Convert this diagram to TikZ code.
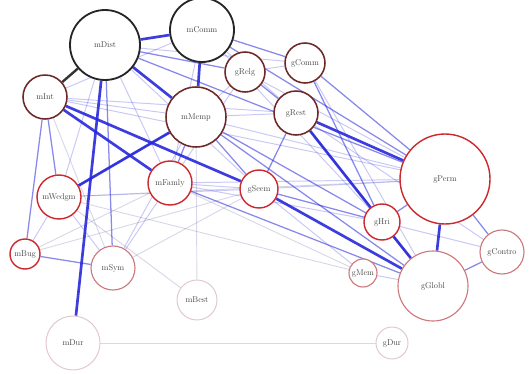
\documentclass[tikz,border=0pt]{standalone}
\usetikzlibrary{backgrounds}
\usetikzlibrary{calc}

\definecolor{edgeblue}{RGB}{40,40,220}
\definecolor{ringdark}{RGB}{110,40,40}
\definecolor{ringred}{RGB}{205,40,45}
\definecolor{ringpink}{RGB}{205,120,125}
\definecolor{ringpale}{RGB}{225,200,205}

\tikzset{
  nd/.style={circle, draw, fill=white, inner sep=0pt, font=\large, text=black!75},
  ndblack/.style={nd, draw=black!85, line width=2.6pt},
  nddark/.style={nd, draw=ringdark, line width=2.2pt},
  ndred/.style={nd, draw=ringred, line width=2pt},
  ndpink/.style={nd, draw=ringpink, line width=1.6pt},
  ndpale/.style={nd, draw=ringpale, line width=1.4pt},
  e1/.style={draw=edgeblue!35!gray, opacity=0.25, line width=1.3pt},
  e2/.style={draw=edgeblue, opacity=0.25, line width=1.4pt},
  e3/.style={draw=edgeblue, opacity=0.55, line width=1.8pt},
  e4/.style={draw=edgeblue, opacity=0.9, line width=3.8pt}
}

\begin{document}
\begin{tikzpicture}[x=0.05cm,y=-0.05cm]
\useasboundingbox (0,0) rectangle (529,373);

% nodes
\node[ndblack, minimum size=3.5cm] (mDist) at (105,45) {mDist};
\node[ndblack, minimum size=3.2cm] (mComm) at (202,30) {mComm};
\node[nddark, minimum size=2.0cm] (gRelg) at (245,72) {gRelg};
\node[nddark, minimum size=2.0cm] (gComm) at (305,63) {gComm};
\node[nddark, minimum size=2.2cm] (mInt) at (45,97) {mInt};
\node[nddark, minimum size=3.0cm] (mMemp) at (196,117) {mMemp};
\node[nddark, minimum size=2.2cm] (gRest) at (296,113) {gRest};
\node[ndred, minimum size=4.5cm] (gPerm) at (445,179) {gPerm};
\node[ndred, minimum size=2.2cm] (mWedgm) at (59,197) {mWedgm};
\node[ndred, minimum size=2.2cm] (mFamly) at (170,183) {mFamly};
\node[ndred, minimum size=1.9cm] (gSeem) at (259,189) {gSeem};
\node[ndred, minimum size=1.8cm] (gHri) at (382,222) {gHri};
\node[ndred, minimum size=1.5cm] (mBug) at (25,254) {mBug};
\node[ndpink, minimum size=2.2cm] (mSym) at (113,268) {mSym};
\node[ndpink, minimum size=2.2cm] (gContro) at (502,252) {gContro};
\node[ndpink, minimum size=1.4cm] (gMem) at (363,273) {gMem};
\node[ndpink, minimum size=3.5cm] (gGlobl) at (433,286) {gGlobl};
\node[ndpale, minimum size=2.0cm] (mBest) at (197,300) {mBest};
\node[ndpale, minimum size=2.7cm] (mDur) at (73,343) {mDur};
\node[ndpale, minimum size=1.6cm] (gDur) at (392,343) {gDur};

\begin{scope}[on background layer]
% faint links
\draw[e1] (mDur) -- (gDur);
\draw[e1] (mMemp) -- (mBest);
\draw[e1] (mWedgm) -- (mBest);
\draw[e1] (mWedgm) -- (gMem);
\draw[e1] (mBug) -- (gSeem);
\draw[e1] (mBug) -- (mFamly);
\draw[e1] (mFamly) -- (gMem);
\draw[e1] (mSym) -- (gSeem);
\draw[e1] (mInt) -- (mSym);
\draw[e1] (mWedgm) -- (gPerm);

% light links
\draw[e2] (mInt) -- (mMemp);
\draw[e2] (mInt) -- (gRest);
\draw[e2] (mInt) -- (mComm);
\draw[e2] (mInt) -- (gPerm);
\draw[e2] (mDist) -- (mFamly);
\draw[e2] (mDist) -- (gSeem);
\draw[e2] (mDist) -- (gComm);
\draw[e2] (mDist) -- (mWedgm);
\draw[e2] (mComm) -- (gRest);
\draw[e2] (mComm) -- (mFamly);
\draw[e2] (mComm) -- (gHri);
\draw[e2] (gRelg) -- (gComm);
\draw[e2] (gRelg) -- (mMemp);
\draw[e2] (gRelg) -- (gPerm);
\draw[e2] (gRelg) -- (mFamly);
\draw[e2] (mWedgm) -- (mBug);
\draw[e2] (mWedgm) -- (mSym);
\draw[e2] (mWedgm) -- (gSeem);
\draw[e2] (mFamly) -- (mSym);
\draw[e2] (mFamly) -- (gSeem);
\draw[e2] (mFamly) -- (gPerm);
\draw[e2] (mFamly) -- (gHri);
\draw[e2] (gSeem) -- (gPerm);
\draw[e2] (gSeem) -- (gMem);
\draw[e2] (mMemp) -- (gPerm);
\draw[e2] (mMemp) -- (gRest);
\draw[e2] (gHri) -- (gContro);
\draw[e2] (gMem) -- (gGlobl);
\draw[e2] (gComm) -- (gGlobl);
\draw[e2] (gRest) -- (gContro);
\draw[e2] (mMemp) -- (mSym);

% medium links
\draw[e3] (mComm) -- (gComm);
\draw[e3] (mComm) -- (gPerm);
\draw[e3] (mDist) -- (gRelg);
\draw[e3] (mInt) -- (mWedgm);
\draw[e3] (mInt) -- (mBug);
\draw[e3] (mBug) -- (mSym);
\draw[e3] (mDist) -- (mSym);
\draw[e3] (mMemp) -- (mWedgm);
\draw[e3] (mMemp) -- (gSeem);
\draw[e3] (mMemp) -- (gHri);
\draw[e3] (gComm) -- (gPerm);
\draw[e3] (gComm) -- (gHri);
\draw[e3] (gRest) -- (gGlobl);
\draw[e3] (mMemp) -- (gGlobl);
\draw[e3] (gSeem) -- (gHri);
\draw[e3] (gRelg) -- (gRest);
\draw[e3] (mFamly) -- (mMemp);
\draw[e3] (gRest) -- (gSeem);
\draw[e3] (gHri) -- (gPerm);
\draw[e3] (gPerm) -- (gContro);
\draw[e3] (gGlobl) -- (gContro);
\draw[e3] (mDist) -- (gPerm);
\draw[e3] (mFamly) -- (gGlobl);

% strong links
\draw[e4] (mDist) -- (mDur);
\draw[e4] (mDist) -- (mComm);
\draw[e4] (mDist) -- (mMemp);
\draw[e4] (mInt) -- (gSeem);
\draw[e4] (mInt) -- (mFamly);
\draw[e4] (mWedgm) -- (mMemp);
\draw[e4] (mComm) -- (mMemp);
\draw[e4] (gRest) -- (gHri);
\draw[e4] (gRest) -- (gPerm);
\draw[e4] (gPerm) -- (gGlobl);
\draw[e4] (gHri) -- (gGlobl);
\draw[e4] (gSeem) -- (gGlobl);
\draw[draw=black!80, line width=3.4pt] (mDist) -- (mInt);
\end{scope}
\end{tikzpicture}
\end{document}
